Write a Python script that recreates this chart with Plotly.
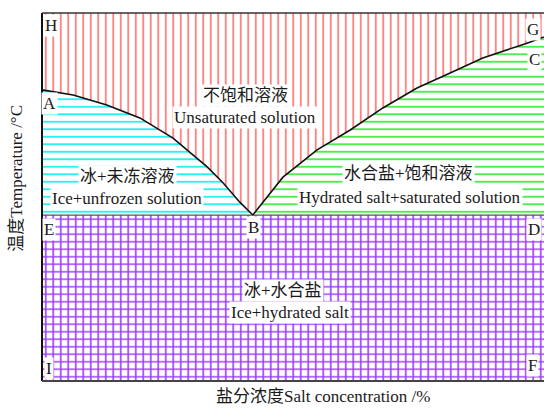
import plotly.graph_objects as go

# Phase diagram of a salt-water system (normalised axes, 0-100)
# Liquidus of ice: from A down to the eutectic point B
ice_curve_x = [0.0, 6.2, 12.9, 19.5, 26.1, 29.5, 32.9, 36.1, 39.4, 42.0]
ice_curve_y = [79.1, 77.7, 75.0, 71.5, 66.0, 62.2, 58.2, 53.8, 48.6, 45.1]
# Solubility curve of the hydrated salt: from B up to G
salt_curve_x = [42.0, 48.0, 54.8, 61.4, 67.9, 74.7, 81.3, 87.8, 96.6, 100.0]
salt_curve_y = [45.1, 55.4, 62.8, 68.2, 74.2, 79.6, 83.7, 87.8, 91.8, 93.5]
# Eutectic temperature (line E-B-D) and axis limits
eutectic_t = 45.1
x_min, x_max = 0.0, 100.0
t_min, t_max = 0.0, 100.0

region_names = ["不饱和溶液", "Unsaturated solution",
                "冰+未冻溶液", "Ice+unfrozen solution",
                "水合盐+饱和溶液", "Hydrated salt+saturated solution",
                "冰+水合盐", "Ice+hydrated salt"]
point_names = ["H", "A", "G", "C", "E", "B", "D", "I", "F"]
x_title = "盐分浓度Salt concentration /%"
y_title = "温度Temperature /°C"

FONT = "Liberation Serif, 'Noto Sans CJK SC', serif"
TXT = "#1a1a1a"

fig = go.Figure()


def region(xs, ys, shape, color, solidity):
    fig.add_trace(go.Scatter(
        x=xs, y=ys, mode="lines", fill="toself", line=dict(width=0),
        fillcolor="white",
        fillpattern=dict(shape=shape, size=7.5, solidity=solidity,
                         fgcolor=color, fgopacity=1, bgcolor="white",
                         fillmode="replace"),
        hoverinfo="skip", showlegend=False))


# Unsaturated solution: above both curves
unsat_x = [x_min, x_max] + salt_curve_x[::-1] + ice_curve_x[::-1]
unsat_y = [t_max, t_max] + salt_curve_y[::-1] + ice_curve_y[::-1]
region(unsat_x, unsat_y, "|", "#ff8080", 0.24)

# Ice + unfrozen solution
ice_x = ice_curve_x + [x_min]
ice_y = ice_curve_y + [eutectic_t]
region(ice_x, ice_y, "-", "#22f0f4", 0.24)

# Hydrated salt + saturated solution
hyd_x = salt_curve_x + [x_max]
hyd_y = salt_curve_y + [eutectic_t]
region(hyd_x, hyd_y, "-", "#44ee44", 0.24)

# Ice + hydrated salt: below the eutectic
region([x_min, x_max, x_max, x_min], [t_min, t_min, eutectic_t, eutectic_t],
       "+", "#9a3cff", 0.38)

# Boundary curves
fig.add_trace(go.Scatter(x=[x_min, x_max], y=[eutectic_t, eutectic_t], mode="lines",
                         line=dict(color="#555555", width=1.2),
                         hoverinfo="skip", showlegend=False))
fig.add_trace(go.Scatter(x=ice_curve_x, y=ice_curve_y, mode="lines",
                         line=dict(color="#111111", width=1.6),
                         hoverinfo="skip", showlegend=False))
fig.add_trace(go.Scatter(x=salt_curve_x, y=salt_curve_y, mode="lines",
                         line=dict(color="#111111", width=1.6),
                         hoverinfo="skip", showlegend=False))

# Region labels
region_pos = [(40.6, 77.7), (40.4, 71.5), (17.1, 55.7), (16.9, 49.5),
              (73.1, 56.3), (73.3, 50.0), (48.0, 24.7), (49.4, 18.5)]
for text, (x, y) in zip(region_names, region_pos):
    fig.add_annotation(x=x, y=y, text=text, showarrow=False,
                       font=dict(family=FONT, size=17, color=TXT),
                       bgcolor="white", borderpad=1)

# Point labels
point_pos = [(1.8, 96.5), (1.4, 75.3), (97.8, 95.4), (98.2, 87.5), (1.4, 41.3),
             (42.2, 41.6), (98.0, 41.3), (1.4, 3.5), (97.8, 4.1)]
for text, (x, y) in zip(point_names, point_pos):
    fig.add_annotation(x=x, y=y, text=text, showarrow=False,
                       font=dict(family=FONT, size=17, color=TXT),
                       bgcolor="white", borderpad=1)

# Axis titles
fig.add_annotation(xref="paper", yref="paper", x=0.56, y=-0.042, text=x_title,
                   xanchor="center", yanchor="middle",
                   showarrow=False, font=dict(family=FONT, size=17, color=TXT))
fig.add_annotation(xref="paper", yref="paper", x=-0.05, y=0.552, text=y_title,
                   xanchor="center", yanchor="middle", textangle=-90,
                   showarrow=False, font=dict(family=FONT, size=17, color=TXT))

# Frame: left, top, bottom
fig.add_shape(type="line", xref="paper", yref="paper", x0=0, x1=0, y0=0, y1=1,
              line=dict(color="#111111", width=2))
fig.add_shape(type="line", xref="paper", yref="paper", x0=0, x1=1, y0=1, y1=1,
              line=dict(color="#333333", width=1.5))
fig.add_shape(type="line", xref="paper", yref="paper", x0=0, x1=1, y0=0, y1=0,
              line=dict(color="#444444", width=2))

fig.update_xaxes(range=[x_min, x_max], visible=False, fixedrange=True)
fig.update_yaxes(range=[t_min, t_max], visible=False, fixedrange=True)
fig.update_layout(width=544, height=408,
                  margin=dict(l=42, r=0, t=13, b=27),
                  paper_bgcolor="white", plot_bgcolor="white")

fig.write_html("out.html")
